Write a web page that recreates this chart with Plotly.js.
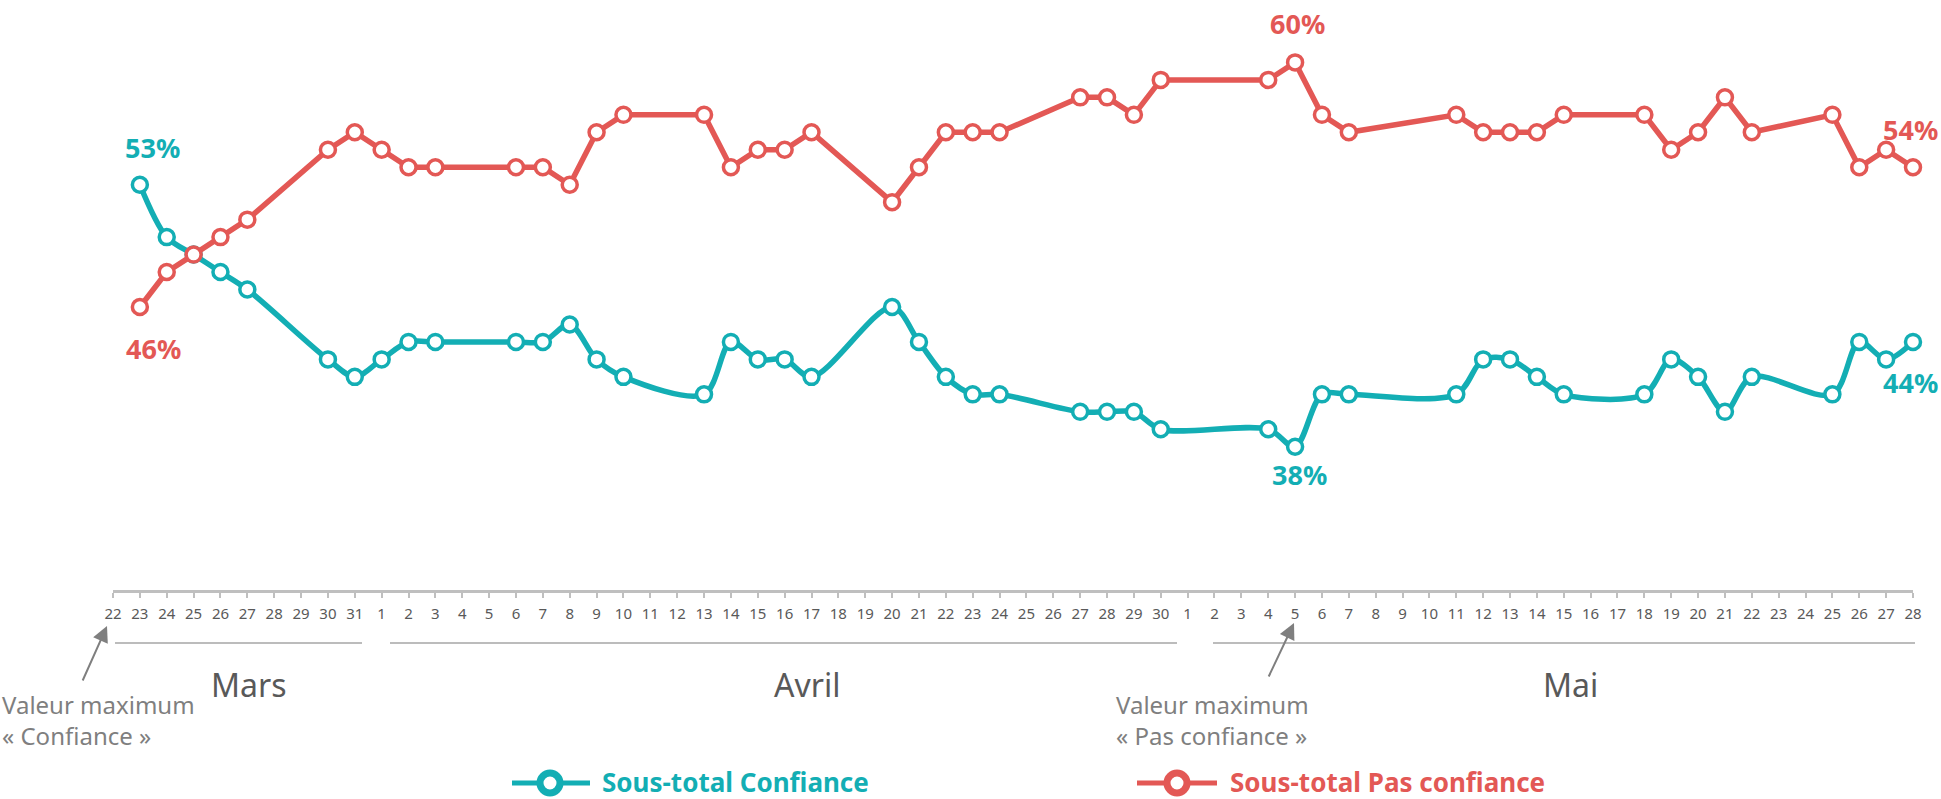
<!DOCTYPE html>
<html>
<head>
<meta charset="utf-8">
<script src="https://cdn.plot.ly/plotly-3.0.1.min.js"></script>
<style>
  html, body { margin: 0; padding: 0; background: #ffffff; }
  #chart { width: 1941px; height: 799px; }
</style>
</head>
<body>
<div id="chart"></div>
<script>
// ---- Data ----
const surveyDates = [
  '2020-03-23','2020-03-24','2020-03-25','2020-03-26','2020-03-27','2020-03-30','2020-03-31',
  '2020-04-01','2020-04-02','2020-04-03','2020-04-06','2020-04-07','2020-04-08','2020-04-09','2020-04-10',
  '2020-04-13','2020-04-14','2020-04-15','2020-04-16','2020-04-17','2020-04-20','2020-04-21','2020-04-22',
  '2020-04-23','2020-04-24','2020-04-27','2020-04-28','2020-04-29','2020-04-30',
  '2020-05-04','2020-05-05','2020-05-06','2020-05-07','2020-05-11','2020-05-12','2020-05-13','2020-05-14',
  '2020-05-15','2020-05-18','2020-05-19','2020-05-20','2020-05-21','2020-05-22','2020-05-25','2020-05-26',
  '2020-05-27','2020-05-28'
];
const confiance = [
  53,50,49,48,47,43,42,
  43,44,44,44,44,45,43,42,
  41,44,43,43,42,46,44,42,
  41,41,40,40,40,39,
  39,38,41,41,41,43,43,42,
  41,41,43,42,40,42,41,44,
  43,44
];
const pasConfiance = [
  46,48,49,50,51,55,56,
  55,54,54,54,54,53,56,57,
  57,54,55,55,56,52,54,56,
  56,56,58,58,57,59,
  59,60,57,56,57,56,56,56,
  57,57,55,56,58,56,57,54,
  55,54
];
const seriesNames = ['Sous-total Confiance', 'Sous-total Pas confiance'];
const monthLabels = ['Mars', 'Avril', 'Mai'];
const axisStart = '2020-03-22';
const axisEnd = '2020-05-28';
const noteConfiance = 'Valeur maximum<br>« Confiance »';
const notePasConfiance = 'Valeur maximum<br>« Pas confiance »';

// ---- Styling ----
const TEAL = '#13AEB4';
const RED = '#E35855';
const GREY_TXT = '#595959';
const GREY_NOTE = '#7F7F7F';
const GREY_LINE = '#A6A6A6';

// plot area in pixels
const L = 113, R = 1913, T = 10, B = 590;
const px = x => (x - L) / (R - L);
const py = y => (B - y) / (B - T);

function idxOfMax(a) { let m = 0; a.forEach((v, i) => { if (v > a[m]) m = i; }); return m; }
function idxOfMin(a) { let m = 0; a.forEach((v, i) => { if (v < a[m]) m = i; }); return m; }
const last = surveyDates.length - 1;
const iMaxPas = idxOfMax(pasConfiance);
const iMinConf = idxOfMin(confiance.slice(1)) + 1;

const traces = [
  {
    x: surveyDates, y: confiance, name: seriesNames[0], type: 'scatter', mode: 'lines+markers',
    line: { color: TEAL, width: 5.5, shape: 'spline', smoothing: 0.9 },
    marker: { size: 15, color: '#ffffff', line: { color: TEAL, width: 3.5 } },
    cliponaxis: false, showlegend: false, hoverinfo: 'skip'
  },
  {
    x: surveyDates, y: pasConfiance, name: seriesNames[1], type: 'scatter', mode: 'lines+markers',
    line: { color: RED, width: 5.5, shape: 'linear' },
    marker: { size: 15, color: '#ffffff', line: { color: RED, width: 3.5 } },
    cliponaxis: false, showlegend: false, hoverinfo: 'skip'
  }
];

const labelFont = (c) => ({ family: 'Noto Sans, Open Sans, sans-serif', size: 27, color: c });
function valLabel(x, y, color, xs, ys) {
  return { x: x, y: y, xref: 'x', yref: 'y', text: '<b>' + y + '%</b>', showarrow: false,
           font: labelFont(color), xshift: xs, yshift: ys, xanchor: 'center', yanchor: 'middle' };
}

const annotations = [
  valLabel(surveyDates[0], confiance[0], TEAL, 13, 37),
  valLabel(surveyDates[0], pasConfiance[0], RED, 14, -42),
  valLabel(surveyDates[iMaxPas], pasConfiance[iMaxPas], RED, 2, 39),
  valLabel(surveyDates[iMinConf], confiance[iMinConf], TEAL, 4, -28),
  valLabel(surveyDates[last], pasConfiance[last], RED, -3, 38),
  valLabel(surveyDates[last], confiance[last], TEAL, -3, -41)
];

// month labels
const monthX = [249, 807, 1570];
monthLabels.forEach((m, i) => {
  annotations.push({ x: px(monthX[i]), y: py(684), xref: 'paper', yref: 'paper', text: m,
    showarrow: false, xanchor: 'center', yanchor: 'middle',
    font: { family: 'Noto Sans, sans-serif', size: 32, color: GREY_TXT } });
});

// notes
annotations.push({ x: px(0), y: py(720), xref: 'paper', yref: 'paper', text: noteConfiance,
  showarrow: false, xanchor: 'left', yanchor: 'middle', align: 'left',
  font: { family: 'Noto Sans, sans-serif', size: 24, color: GREY_NOTE } });
annotations.push({ x: px(1114), y: py(720), xref: 'paper', yref: 'paper', text: notePasConfiance,
  showarrow: false, xanchor: 'left', yanchor: 'middle', align: 'left',
  font: { family: 'Noto Sans, sans-serif', size: 24, color: GREY_NOTE } });
// arrows
annotations.push({ x: px(107), y: py(626), xref: 'paper', yref: 'paper', text: '', showarrow: true,
  ax: -25, ay: 56, arrowcolor: GREY_NOTE, arrowwidth: 2, arrowhead: 2, arrowsize: 1.6, standoff: 0 });
annotations.push({ x: px(1294), y: py(623), xref: 'paper', yref: 'paper', text: '', showarrow: true,
  ax: -26, ay: 55, arrowcolor: GREY_NOTE, arrowwidth: 2, arrowhead: 2, arrowsize: 1.6, standoff: 0 });

// legend texts
annotations.push({ x: px(600), y: py(782), xref: 'paper', yref: 'paper', text: '<b>' + seriesNames[0] + '</b>',
  showarrow: false, xanchor: 'left', yanchor: 'middle',
  font: { family: 'Noto Sans, sans-serif', size: 26, color: TEAL } });
annotations.push({ x: px(1228), y: py(782), xref: 'paper', yref: 'paper', text: '<b>' + seriesNames[1] + '</b>',
  showarrow: false, xanchor: 'left', yanchor: 'middle',
  font: { family: 'Noto Sans, sans-serif', size: 26, color: RED } });

const shapes = [];
// month bracket lines
[[115, 362], [390, 1177], [1213, 1915]].forEach(([a, b]) => {
  shapes.push({ type: 'line', xref: 'paper', yref: 'paper', x0: px(a), x1: px(b), y0: py(643), y1: py(643),
    line: { color: GREY_LINE, width: 1.5 } });
});
// legend symbols
function legendSymbol(x0, x1, cx, color) {
  shapes.push({ type: 'line', xref: 'paper', yref: 'paper', x0: px(x0), x1: px(x1), y0: py(783), y1: py(783),
    line: { color: color, width: 5 } });
  shapes.push({ type: 'circle', xref: 'paper', yref: 'paper', x0: px(cx - 10), x1: px(cx + 10),
    y0: py(793), y1: py(773), fillcolor: '#ffffff', line: { color: color, width: 7 } });
}
legendSymbol(512, 590, 550, TEAL);
legendSymbol(1137, 1217, 1177, RED);

const layout = {
  width: 1941, height: 799,
  margin: { l: L, r: 1941 - R, t: T, b: 799 - B, pad: 0 },
  paper_bgcolor: '#ffffff', plot_bgcolor: '#ffffff',
  showlegend: false,
  xaxis: {
    type: 'date', range: [axisStart, axisEnd],
    tickmode: 'linear', tick0: axisStart, dtick: 86400000, tickformat: '%-d',
    showgrid: false, zeroline: false,
    showline: true, linecolor: '#BFBFBF', linewidth: 3,
    ticks: 'outside', ticklen: 5, tickwidth: 2, tickcolor: '#BFBFBF',
    tickfont: { family: 'Liberation Sans Narrow, Noto Sans, sans-serif', size: 15, color: GREY_TXT },
    ticklabelstandoff: 3,
    fixedrange: true
  },
  yaxis: {
    range: [29.8, 63], showgrid: false, zeroline: false, showline: false,
    showticklabels: false, ticks: '', fixedrange: true
  },
  annotations: annotations,
  shapes: shapes
};

Plotly.newPlot('chart', traces, layout, { staticPlot: true, displayModeBar: false });
</script>
</body>
</html>
